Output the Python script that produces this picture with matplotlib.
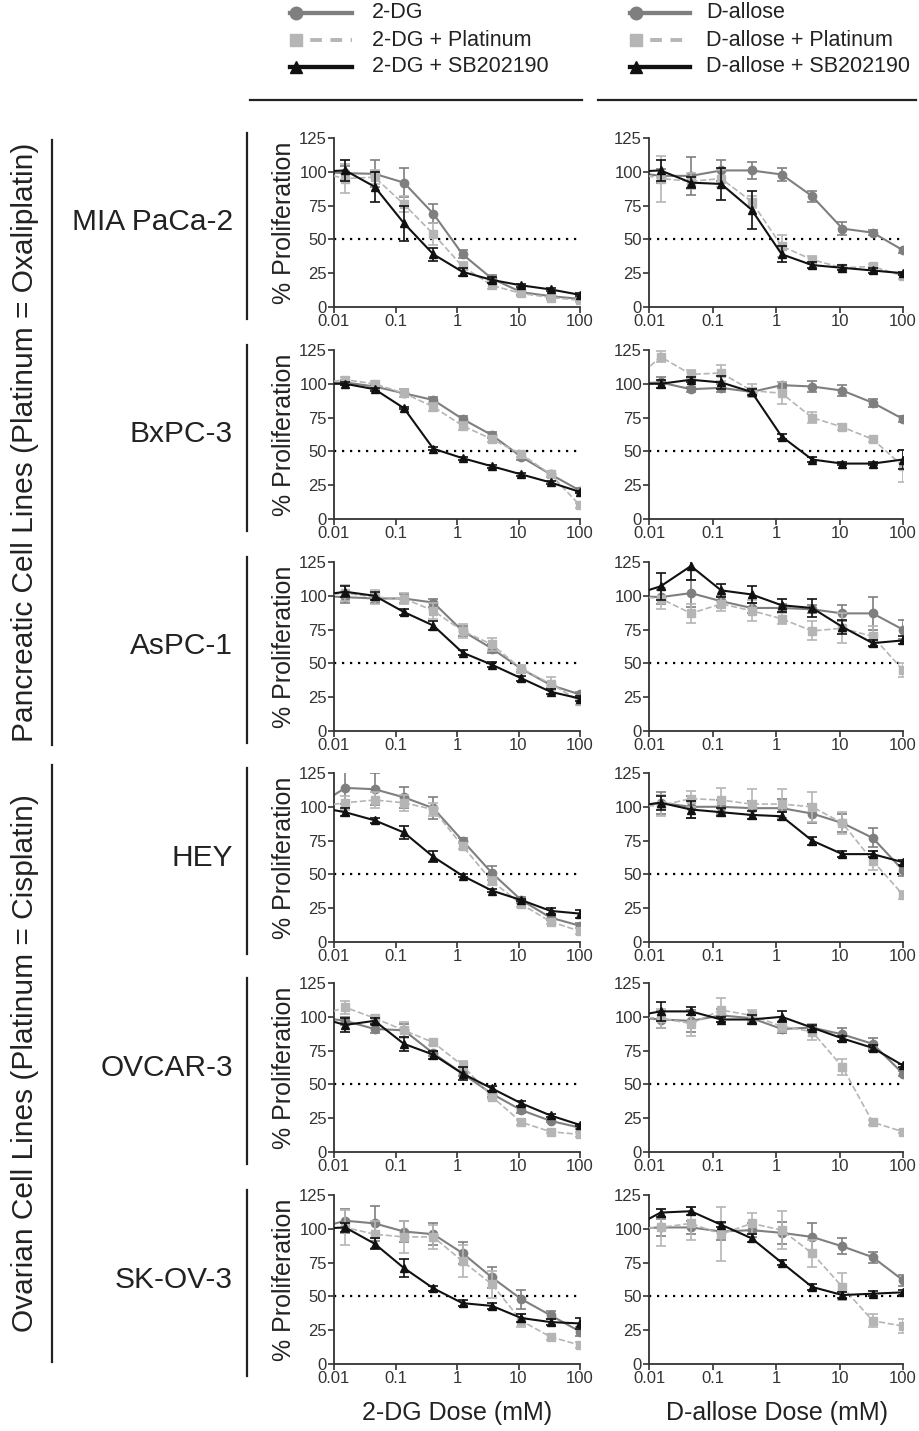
import matplotlib
matplotlib.use('Agg')
import matplotlib.pyplot as plt
from matplotlib.lines import Line2D

plt.rcParams['font.family'] = ['Liberation Sans', 'DejaVu Sans']

# 3-fold dilutions from 100 mM, plus the untreated control (100 %) off the left edge
doses = [0.00508, 0.0152, 0.0457, 0.137, 0.412, 1.23, 3.70, 11.1, 33.3, 100]
control = 100

cell_lines = ['MIA PaCa-2', 'BxPC-3', 'AsPC-1', 'HEY', 'OVCAR-3', 'SK-OV-3']
drugs = ['2-DG', 'D-allose']

# --- 2-DG column ---
mia_dg = [99, 98.5, 92, 69, 39, 21, 11, 8, 6]
mia_dg_err = [5, 10, 11, 7, 3, 3, 2, 1, 1]
mia_dg_pt = [95, 96, 76, 54, 30, 16, 10, 7, 5]
mia_dg_pt_err = [11, 5, 6, 8, 3, 3, 2, 2, 1]
mia_dg_sb = [101, 89, 62, 39, 26, 20, 16, 13, 9]
mia_dg_sb_err = [8, 11, 13, 5, 3, 2, 1, 1, 1]

bx_dg = [101, 98, 93, 88, 74, 62, 46, 33, 21]
bx_dg_err = [2, 2, 3, 2, 2, 2, 2, 2, 2]
bx_dg_pt = [103, 100, 93, 83, 69, 59, 48, 33, 10]
bx_dg_pt_err = [2, 2, 3, 3, 3, 2, 2, 2, 2]
bx_dg_sb = [100, 96, 82, 52, 45, 39, 33, 27, 20]
bx_dg_sb_err = [1, 1, 1, 1, 1, 1, 1, 1, 1]

as_dg = [99, 98, 98, 95, 74, 61, 46, 34, 27]
as_dg_err = [4, 3, 3, 3, 4, 3, 2, 2, 2]
as_dg_pt = [102, 99, 98, 89, 74, 64, 46, 35, 22]
as_dg_pt_err = [6, 5, 4, 6, 5, 5, 3, 5, 3]
as_dg_sb = [103, 100, 88, 78, 58, 49, 39, 29, 24]
as_dg_sb_err = [4, 3, 2, 3, 2, 2, 2, 2, 2]

hey_dg = [114, 113, 107, 99, 75, 51, 31, 18, 12]
hey_dg_err = [12, 12, 8, 8, 2, 5, 2, 2, 2]
hey_dg_pt = [103, 105, 103, 98, 71, 45, 28, 15, 8]
hey_dg_pt_err = [5, 6, 6, 5, 2, 3, 2, 2, 2]
hey_dg_sb = [96, 90, 81, 63, 49, 38, 31, 23, 21]
hey_dg_sb_err = [3, 2, 5, 4, 1, 1, 1, 2, 3]

ov_dg = [97, 91, 90, 73, 58, 43, 31, 23, 18]
ov_dg_err = [3, 3, 5, 2, 2, 2, 2, 1, 1]
ov_dg_pt = [107, 99, 90, 81, 64, 41, 22, 15, 13]
ov_dg_pt_err = [5, 2, 6, 2, 3, 2, 2, 1, 2]
ov_dg_sb = [94, 97, 80, 72, 58, 47, 36, 27, 20]
ov_dg_sb_err = [5, 2, 5, 3, 5, 2, 2, 1, 1]

sk_dg = [106, 104, 98, 96, 82, 64, 48, 36, 24]
sk_dg_err = [9, 13, 8, 8, 8, 8, 7, 3, 3]
sk_dg_pt = [101, 96, 94, 94, 76, 59, 32, 20, 14]
sk_dg_pt_err = [13, 10, 12, 9, 12, 10, 5, 2, 2]
sk_dg_sb = [101, 89, 71, 56, 45, 43, 34, 31, 30]
sk_dg_sb_err = [3, 4, 7, 2, 2, 2, 3, 2, 4]

# --- D-allose column ---
mia_al = [97, 97, 101, 101, 98, 82, 58, 55, 42]
mia_al_err = [5, 14, 8, 6, 5, 4, 5, 2, 2]
mia_al_pt = [95, 93, 95, 78, 45, 35, 29, 30, 23]
mia_al_pt_err = [17, 6, 6, 4, 8, 3, 2, 2, 2]
mia_al_sb = [101, 92, 91, 72, 39, 31, 29, 27, 25]
mia_al_sb_err = [8, 4, 12, 14, 6, 2, 2, 2, 1]

bx_al = [101, 96, 97, 94, 99, 98, 95, 86, 74]
bx_al_err = [4, 2, 3, 3, 2, 4, 4, 3, 2]
bx_al_pt = [120, 107, 108, 95, 93, 75, 68, 59, 39]
bx_al_pt_err = [4, 3, 6, 5, 8, 4, 2, 2, 12]
bx_al_sb = [100, 103, 101, 94, 61, 44, 41, 41, 44]
bx_al_sb_err = [3, 2, 5, 2, 2, 2, 1, 1, 7]

as_al = [99, 102, 96, 91, 91, 90, 87, 87, 75]
as_al_err = [5, 10, 4, 4, 3, 3, 6, 12, 7]
as_al_pt = [98, 87, 94, 89, 83, 74, 76, 70, 45]
as_al_pt_err = [8, 7, 5, 8, 4, 7, 11, 8, 5]
as_al_sb = [107, 122, 104, 101, 93, 91, 77, 65, 67]
as_al_sb_err = [10, 10, 5, 6, 5, 7, 5, 2, 3]

hey_al = [103, 100, 100, 99, 99, 95, 88, 77, 53]
hey_al_err = [8, 8, 5, 5, 7, 7, 7, 7, 4]
hey_al_pt = [101, 106, 105, 102, 102, 100, 88, 60, 35]
hey_al_pt_err = [8, 6, 9, 11, 11, 11, 8, 7, 3]
hey_al_sb = [103, 98, 96, 94, 93, 75, 65, 65, 59]
hey_al_sb_err = [5, 6, 3, 3, 3, 3, 2, 2, 2]

ov_al = [98, 97, 101, 99, 91, 92, 87, 80, 58]
ov_al_err = [6, 8, 5, 3, 3, 3, 5, 4, 2]
ov_al_pt = [99, 95, 105, 101, 93, 89, 63, 22, 15]
ov_al_pt_err = [7, 9, 9, 4, 4, 6, 6, 2, 1]
ov_al_sb = [104, 104, 98, 98, 100, 92, 84, 77, 64]
ov_al_sb_err = [7, 3, 2, 3, 4, 2, 2, 2, 1]

sk_al = [101, 101, 98, 99, 97, 94, 87, 79, 62]
sk_al_err = [6, 5, 6, 5, 8, 10, 6, 4, 4]
sk_al_pt = [101, 104, 96, 104, 99, 82, 57, 32, 28]
sk_al_pt_err = [14, 12, 20, 8, 14, 10, 10, 5, 5]
sk_al_sb = [112, 113, 103, 93, 75, 57, 51, 52, 53]
sk_al_sb_err = [3, 3, 2, 3, 2, 2, 2, 2, 2]

panels = [
    [(mia_dg, mia_dg_err, mia_dg_pt, mia_dg_pt_err, mia_dg_sb, mia_dg_sb_err),
     (mia_al, mia_al_err, mia_al_pt, mia_al_pt_err, mia_al_sb, mia_al_sb_err)],
    [(bx_dg, bx_dg_err, bx_dg_pt, bx_dg_pt_err, bx_dg_sb, bx_dg_sb_err),
     (bx_al, bx_al_err, bx_al_pt, bx_al_pt_err, bx_al_sb, bx_al_sb_err)],
    [(as_dg, as_dg_err, as_dg_pt, as_dg_pt_err, as_dg_sb, as_dg_sb_err),
     (as_al, as_al_err, as_al_pt, as_al_pt_err, as_al_sb, as_al_sb_err)],
    [(hey_dg, hey_dg_err, hey_dg_pt, hey_dg_pt_err, hey_dg_sb, hey_dg_sb_err),
     (hey_al, hey_al_err, hey_al_pt, hey_al_pt_err, hey_al_sb, hey_al_sb_err)],
    [(ov_dg, ov_dg_err, ov_dg_pt, ov_dg_pt_err, ov_dg_sb, ov_dg_sb_err),
     (ov_al, ov_al_err, ov_al_pt, ov_al_pt_err, ov_al_sb, ov_al_sb_err)],
    [(sk_dg, sk_dg_err, sk_dg_pt, sk_dg_pt_err, sk_dg_sb, sk_dg_sb_err),
     (sk_al, sk_al_err, sk_al_pt, sk_al_pt_err, sk_al_sb, sk_al_sb_err)],
]

c_drug = '#7f7f7f'
c_pt = '#b5b5b5'
c_sb = '#111111'
axis_c = '#333333'
text_c = '#222222'

W, H = 919, 1431
fig = plt.figure(figsize=(W / 100, H / 100), dpi=100)


def fx(px):
    return px / W


def fy(py):
    return 1 - py / H


col_left = [334, 649]
col_width = [246, 254]
row_top = [138, 350, 562, 773, 983, 1195]
ax_h = 169

styles = [
    dict(color=c_drug, marker='o', ls='-', lw=1.5, ms=6),
    dict(color=c_pt, marker='s', ls='--', lw=1.2, ms=6),
    dict(color=c_sb, marker='^', ls='-', lw=1.5, ms=5.5),
]

for r in range(6):
    for c in range(2):
        ax = fig.add_axes([fx(col_left[c]), fy(row_top[r] + ax_h),
                           fx(col_width[c]), ax_h / H])
        vals = panels[r][c]
        for k in range(3):
            y = [control] + list(vals[2 * k])
            e = [0] + list(vals[2 * k + 1])
            st = styles[k]
            ax.errorbar(doses, y, yerr=e, color=st['color'], ls=st['ls'],
                        lw=st['lw'], marker=st['marker'], ms=st['ms'],
                        mec=st['color'], elinewidth=1.2, capsize=3.5,
                        capthick=1.2, zorder=2 + k, clip_on=True)
        ax.axhline(50, color='black', ls=(0, (1, 2.6)), lw=1.6, zorder=1)
        ax.set_xscale('log')
        ax.set_xlim(0.01, 100)
        ax.set_ylim(0, 125)
        ax.set_xticks([0.01, 0.1, 1, 10, 100])
        ax.set_xticklabels(['0.01', '0.1', '1', '10', '100'])
        ax.minorticks_off()
        ax.set_yticks([0, 25, 50, 75, 100, 125])
        for s in ['top', 'right']:
            ax.spines[s].set_visible(False)
        for s in ['left', 'bottom']:
            ax.spines[s].set_color(axis_c)
            ax.spines[s].set_linewidth(1.3)
        ax.tick_params(direction='out', length=4, width=1.2, colors=axis_c,
                       labelsize=12, pad=1)
        if c == 0:
            ax.set_ylabel('% Proliferation', fontsize=18, color=text_c,
                          labelpad=2)

    # row label and its bar
    yc = row_top[r] + ax_h / 2
    fig.text(fx(233), fy(yc), cell_lines[r], ha='right', va='center',
             fontsize=21.5, color=text_c)
    fig.add_artist(Line2D([fx(247), fx(247)],
                          [fy(row_top[r] - 5), fy(row_top[r] + ax_h + 12)],
                          color=text_c, lw=1.6))

# group labels
groups = ['Pancreatic Cell Lines (Platinum = Oxaliplatin)',
          'Ovarian Cell Lines (Platinum = Cisplatin)']
group_span = [(140, 745), (765, 1362)]
for g, (y0, y1) in zip(groups, group_span):
    fig.add_artist(Line2D([fx(52), fx(52)], [fy(y0), fy(y1)],
                          color=text_c, lw=1.6))
    fig.text(fx(25), fy((y0 + y1) / 2), g, rotation=90, ha='center',
             va='center', fontsize=21.5, color=text_c)

# legends
leg_x = [(290, 352, 372), (630, 690, 706)]
leg_y = [13, 40, 67]
for c in range(2):
    x0, x1, xt = leg_x[c]
    labels = [drugs[c], drugs[c] + ' + Platinum', drugs[c] + ' + SB202190']
    for k in range(3):
        st = styles[k]
        fig.add_artist(Line2D([fx(x0), fx(x1)], [fy(leg_y[k])] * 2,
                              color=st['color'], ls=st['ls'],
                              lw=st['lw'] + 1.6,
                              dashes=(3, 2.2) if k == 1 else (None, None)))
        fig.add_artist(Line2D([fx(x0 + 6)], [fy(leg_y[k])], color=st['color'],
                              marker=st['marker'], ms=st['ms'] + 3, ls='none'))
        fig.text(fx(xt), fy(leg_y[k]), labels[k], ha='left', va='center',
                 fontsize=15.5, color=text_c)
rules = [(250, 582), (598, 916)]
for a, b in rules:
    fig.add_artist(Line2D([fx(a), fx(b)], [fy(100), fy(100)],
                          color=text_c, lw=1.6))

# x axis titles
fig.text(fx(457), fy(1413), '2-DG Dose (mM)', ha='center', va='center',
         fontsize=18, color=text_c)
fig.text(fx(777), fy(1413), 'D-allose Dose (mM)', ha='center', va='center',
         fontsize=18, color=text_c)

fig.savefig('out.png', dpi=100)
